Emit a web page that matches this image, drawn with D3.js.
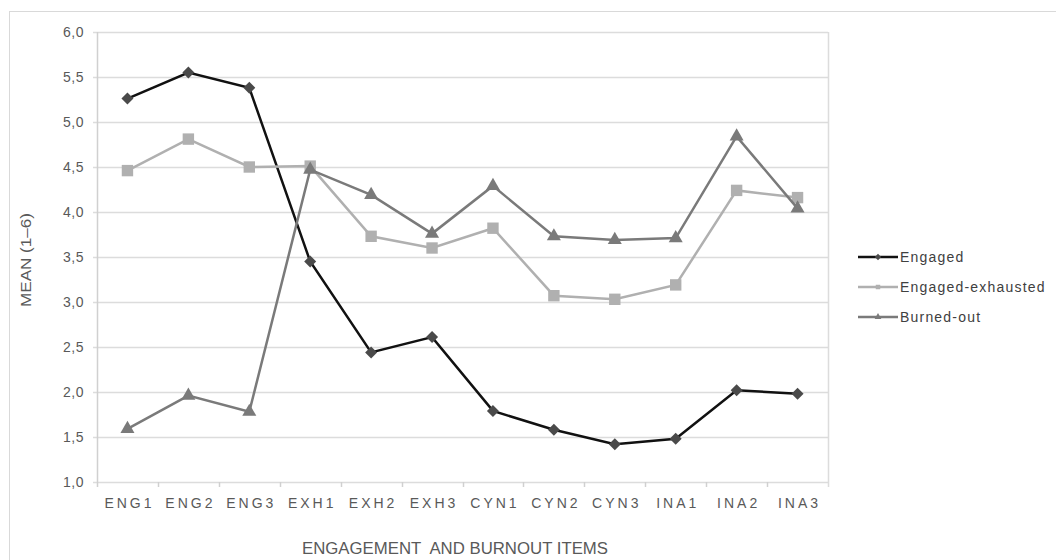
<!DOCTYPE html>
<meta charset="utf-8">
<style>
    body { margin: 0; background: #fff; }
    text { font-family: Arial, "Liberation Sans", sans-serif; fill: #595959; }
    .tickLabel { font-size: 14px; letter-spacing: 0.5px; }
    .xLabel { font-size: 14px; letter-spacing: 3px; }
    .legendText { font-size: 14px; letter-spacing: 1.2px; fill: #404040; }
</style>
<body>
<script src="https://d3js.org/d3.v7.min.js"></script>
<script>
    // data
    let categories = ["ENG1", "ENG2", "ENG3", "EXH1", "EXH2", "EXH3", "CYN1", "CYN2", "CYN3", "INA1", "INA2", "INA3"];
    let engaged = [5.26, 5.55, 5.38, 3.45, 2.44, 2.61, 1.79, 1.58, 1.42, 1.48, 2.02, 1.98];
    let engagedExhausted = [4.46, 4.81, 4.50, 4.51, 3.73, 3.60, 3.82, 3.07, 3.03, 3.19, 4.24, 4.16];
    let burnedOut = [1.59, 1.96, 1.78, 4.47, 4.19, 3.76, 4.29, 3.73, 3.69, 3.71, 4.84, 4.04];
    let yTicks = [1.0, 1.5, 2.0, 2.5, 3.0, 3.5, 4.0, 4.5, 5.0, 5.5, 6.0];

    let width = 1056;
    let height = 560;
    let plot = {left: 97, right: 828, top: 32, bottom: 482};

    let svg = d3.select("body").append("svg")
        .attr("width", width)
        .attr("height", height);

    // outer frame
    svg.append("rect")
        .attr("x", 9.5).attr("y", 11.5)
        .attr("width", 1100).attr("height", 600)
        .attr("fill", "none").attr("stroke", "#d9d9d9");

    let x = d3.scaleBand().domain(categories).range([plot.left, plot.right]);
    let y = d3.scaleLinear().domain([1, 6]).range([plot.bottom, plot.top]);

    // gridlines
    svg.append("g").selectAll("line")
        .data(yTicks)
        .join("line")
            .attr("x1", plot.left - 4).attr("x2", plot.right)
            .attr("y1", d => Math.round(y(d)) + 0.5)
            .attr("y2", d => Math.round(y(d)) + 0.5)
            .attr("stroke", "#dcdcdc").attr("stroke-width", 1.5);

    // left axis line and right border
    svg.append("line")
        .attr("x1", plot.left + 0.5).attr("x2", plot.left + 0.5)
        .attr("y1", plot.top).attr("y2", plot.bottom + 5)
        .attr("stroke", "#d0d0d0").attr("stroke-width", 1.5);
    svg.append("line")
        .attr("x1", plot.right + 0.5).attr("x2", plot.right + 0.5)
        .attr("y1", plot.top).attr("y2", plot.bottom + 5)
        .attr("stroke", "#dcdcdc").attr("stroke-width", 1.5);

    // x ticks between bands
    svg.append("g").selectAll("line")
        .data(categories.slice(1))
        .join("line")
            .attr("x1", d => Math.round(x(d)) + 0.5)
            .attr("x2", d => Math.round(x(d)) + 0.5)
            .attr("y1", plot.bottom).attr("y2", plot.bottom + 5)
            .attr("stroke", "#d0d0d0").attr("stroke-width", 1.5);

    // y tick labels
    svg.append("g").selectAll("text")
        .data(yTicks)
        .join("text")
            .attr("class", "tickLabel")
            .attr("x", plot.left - 13)
            .attr("y", d => y(d) + 5)
            .attr("text-anchor", "end")
            .text(d => d3.format(".1f")(d).replace(".", ","));

    // x tick labels
    svg.append("g").selectAll("text")
        .data(categories)
        .join("text")
            .attr("class", "xLabel")
            .attr("x", d => x(d) + x.bandwidth() / 2 + 2)
            .attr("y", plot.bottom + 26)
            .attr("text-anchor", "middle")
            .text(d => d);

    // axis titles
    svg.append("text")
        .attr("transform", "translate(31,260) rotate(-90)")
        .attr("text-anchor", "middle")
        .attr("textLength", 94)
        .attr("lengthAdjust", "spacingAndGlyphs")
        .style("font-size", "15px")
        .text("MEAN (1\u20136)");

    svg.append("text")
        .attr("x", 455).attr("y", 554)
        .attr("text-anchor", "middle")
        .attr("textLength", 306)
        .attr("lengthAdjust", "spacingAndGlyphs")
        .attr("xml:space", "preserve")
        .style("font-size", "16px")
        .text("ENGAGEMENT  AND BURNOUT ITEMS");

    // square turned 45 degrees, like the spreadsheet diamond
    let wideDiamond = {
        draw: function(context, size) {
            let r = Math.sqrt(size / 2);
            context.moveTo(0, -r);
            context.lineTo(r, 0);
            context.lineTo(0, r);
            context.lineTo(-r, 0);
            context.closePath();
        }
    };

    let series = [
        {name: "Engaged", values: engaged, line: "#111111", marker: "#4a4a4a", symbol: wideDiamond, size: 72},
        {name: "Engaged-exhausted", values: engagedExhausted, line: "#b0b0b0", marker: "#b0b0b0", symbol: d3.symbolSquare, size: 130},
        {name: "Burned-out", values: burnedOut, line: "#7a7a7a", marker: "#7a7a7a", symbol: d3.symbolTriangle, size: 85}
    ];

    let line = d3.line()
        .x((d, i) => x(categories[i]) + x.bandwidth() / 2)
        .y(d => y(d));

    series.forEach(function(s) {
        let g = svg.append("g");
        g.append("path")
            .attr("d", line(s.values))
            .attr("fill", "none")
            .attr("stroke", s.line)
            .attr("stroke-width", 2.5);
        g.selectAll("path.marker")
            .data(s.values)
            .join("path")
                .attr("class", "marker")
                .attr("transform", (d, i) => "translate(" + (x(categories[i]) + x.bandwidth() / 2) + "," + y(d) + ")")
                .attr("d", d3.symbol().type(s.symbol).size(s.size))
                .attr("fill", s.marker);
    });

    // legend
    let legend = svg.append("g");
    series.forEach(function(s, i) {
        let ly = 257 + i * 30;
        legend.append("line")
            .attr("x1", 858).attr("x2", 898)
            .attr("y1", ly).attr("y2", ly)
            .attr("stroke", s.line).attr("stroke-width", 2.5);
        legend.append("path")
            .attr("transform", "translate(878," + ly + ")")
            .attr("d", d3.symbol().type(s.symbol).size(20))
            .attr("fill", s.marker);
        legend.append("text")
            .attr("class", "legendText")
            .attr("x", 900).attr("y", ly + 5)
            .text(s.name);
    });
</script>
</body>
